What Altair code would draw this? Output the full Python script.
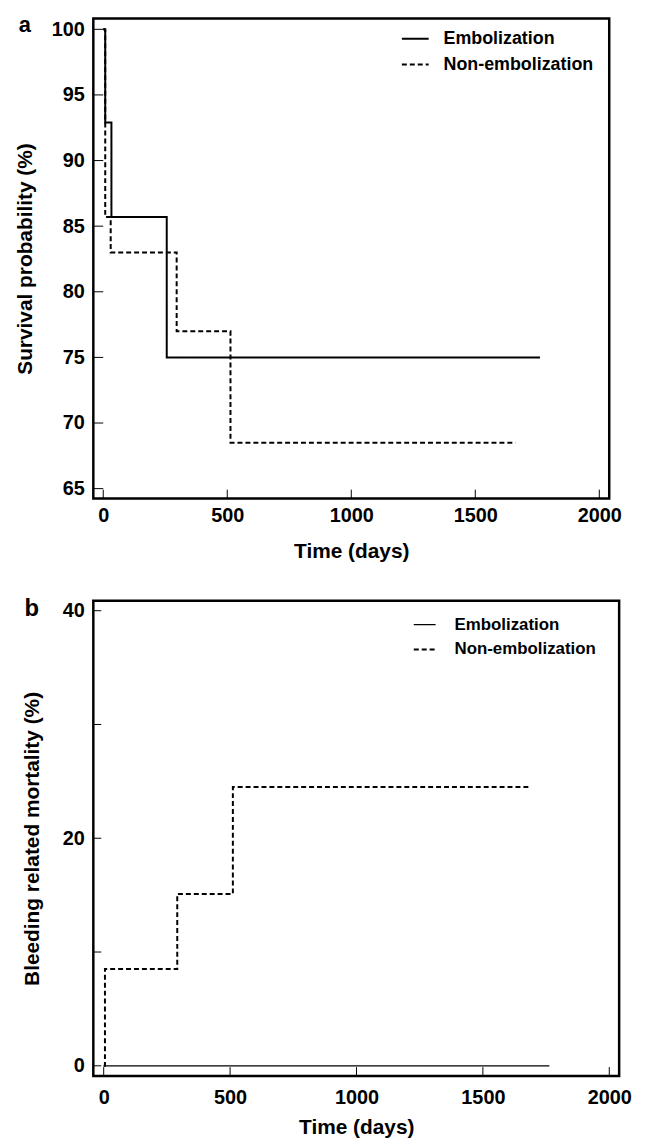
import altair as alt
import pandas as pd

FONT = "Liberation Sans"

# ---- data ----
groups = ["Embolization", "Non-embolization"]

emb_days_a = [0, 8, 33, 256, 1761]
emb_surv_a = [100, 92.9, 85.7, 75.0, 75.0]
non_days_a = [0, 8, 30, 296, 513, 1662]
non_surv_a = [100, 85.7, 83.0, 77.0, 68.5, 68.5]

emb_days_b = [0, 1763]
emb_mort_b = [0, 0]
non_days_b = [0, 5, 291, 511, 1680]
non_mort_b = [0, 8.5, 15.1, 24.5, 24.5]

x_ticks = [0, 500, 1000, 1500, 2000]
y_ticks_a = [65, 70, 75, 80, 85, 90, 95, 100]
y_ticks_b = [0, 10, 20, 30, 40]
y_labels_b = [0, 20, 40]

df_a = pd.concat([
    pd.DataFrame({"day": emb_days_a, "val": emb_surv_a, "group": groups[0]}),
    pd.DataFrame({"day": non_days_a, "val": non_surv_a, "group": groups[1]}),
])
df_b = pd.concat([
    pd.DataFrame({"day": emb_days_b, "val": emb_mort_b, "group": groups[0]}),
    pd.DataFrame({"day": non_days_b, "val": non_mort_b, "group": groups[1]}),
])


def panel(df, xdom, ydom, yticks, ylabels, ytitle, w, h, letter, letter_size,
          letter_x, letter_y, widths, leg_x, leg_y, sym_size, leg_offset, leg_font,
          leg_rowpad, ytick_len, ytitle_pad, xlab_pad, xtitle_pad):
    xs = alt.Scale(domain=xdom, nice=False, zero=False)
    ys = alt.Scale(domain=ydom, nice=False, zero=False)
    lines = alt.Chart(df).mark_line(interpolate="step-after", color="black").encode(
        x=alt.X("day:Q", scale=xs, title="Time (days)",
                axis=alt.Axis(values=x_ticks, format="d", ticks=False, domain=False,
                              grid=False, labelFont=FONT, labelFontWeight="bold",
                              labelFontSize=20, labelColor="black",
                              labelPadding=xlab_pad,
                              titleFont=FONT, titleFontWeight="bold", titleFontSize=21,
                              titleColor="black", titlePadding=xtitle_pad)),
        y=alt.Y("val:Q", scale=ys, title=ytitle,
                axis=alt.Axis(values=ylabels, format="d", ticks=False, domain=False,
                              grid=False, labelFont=FONT, labelFontWeight="bold",
                              labelFontSize=20, labelColor="black", labelPadding=9,
                              titleFont=FONT, titleFontWeight="bold", titleFontSize=21,
                              titleColor="black", titlePadding=ytitle_pad)),
        strokeDash=alt.StrokeDash(
            "group:N",
            scale=alt.Scale(domain=groups, range=[[1, 0], [5, 3]]),
            legend=alt.Legend(title=None, orient="none", legendX=leg_x, legendY=leg_y,
                              symbolType="stroke", symbolSize=sym_size,
                              symbolStrokeWidth=1.2, symbolStrokeColor="black",
                              labelFont=FONT, labelFontWeight="bold",
                              labelFontSize=leg_font, labelColor="black",
                              labelOffset=leg_offset, rowPadding=leg_rowpad)),
        strokeWidth=alt.StrokeWidth("group:N",
                                    scale=alt.Scale(domain=groups, range=widths),
                                    legend=None),
    )
    xt = alt.Chart(pd.DataFrame({"t": x_ticks})).mark_rule(
        color="black", strokeWidth=1).encode(
        x=alt.X("t:Q", scale=xs), y=alt.value(h), y2=alt.value(h - 9))
    yt = alt.Chart(pd.DataFrame({"t": yticks})).mark_rule(
        color="black", strokeWidth=1).encode(
        y=alt.Y("t:Q", scale=ys), x=alt.value(0), x2=alt.value(ytick_len))
    lab = alt.Chart(pd.DataFrame({"t": [letter]})).mark_text(
        font=FONT, fontWeight="bold", fontSize=letter_size, color="black",
        align="center", baseline="alphabetic").encode(
        text="t:N", x=alt.value(letter_x), y=alt.value(letter_y))
    return alt.layer(lines, xt, yt, lab).properties(width=w, height=h)


pa = panel(df_a, [-40, 2040], [64.24, 100.83], y_ticks_a, y_ticks_a,
           "Survival probability (%)", 520, 484, "a", 22, -69, 14,
           [2, 2], 310, 6, 729, 14, 18, 2, 10, 16, 7, 15)
pb = panel(df_b, [-41, 2039], [-0.9, 40.87], y_ticks_b, y_labels_b,
           "Bleeding related mortality (%)", 530, 479, "b", 24, -62, 15,
           [1.3, 2], 322, 12, 484, 18, 17, 5, 8, 20, 12, 9)

chart = alt.vconcat(pa, pb, spacing=103, bounds="flush").resolve_scale(
    strokeDash="independent", strokeWidth="independent"
).resolve_legend(strokeDash="independent").properties(
    padding={"left": 5, "top": 0, "right": 5, "bottom": 0}
).configure(background="white").configure_view(
    stroke="black", strokeWidth=2.5
)

chart.save("out.html", embed_options={"renderer": "svg", "actions": False})
